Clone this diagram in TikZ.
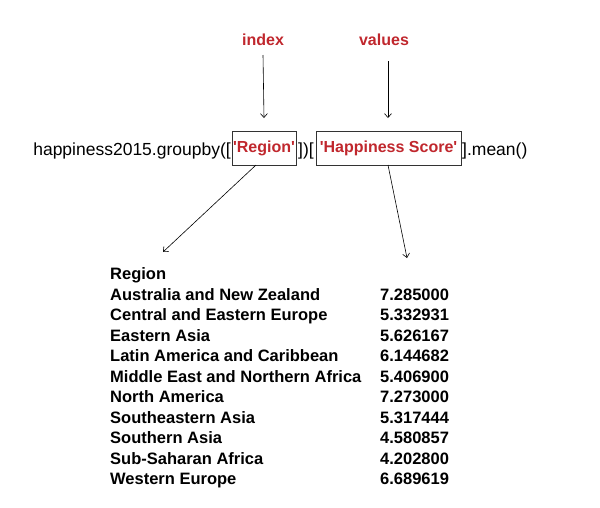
\documentclass[tikz,border=0pt]{standalone}
\usepackage{fontspec}
\setmainfont{Liberation Sans}
\usetikzlibrary{arrows.meta}
\definecolor{accent}{HTML}{C0272D}
\newcommand{\sq}{\textquotesingle}
\begin{document}
\begin{tikzpicture}[x=1pt,y=-1pt,
  lbl/.style={text=accent,font=\fontsize{16}{18}\selectfont\bfseries,inner sep=0pt},
  code/.style={font=\fontsize{17.5}{20}\selectfont,inner sep=0pt},
  keybox/.style={draw=black!80,line width=0.8pt,text=accent,font=\fontsize{16}{18}\selectfont\bfseries,inner sep=0pt,minimum height=34pt},
  row/.style={font=\fontsize{16.5}{19}\selectfont\bfseries,inner sep=0pt,anchor=base west},
  arr/.style={-{Straight Barb[length=4pt,width=7pt]},line width=0.6pt}
]
\useasboundingbox (0,0) rectangle (600,507);
\node[lbl] (index) at (263,40) {index};
\node[lbl] (values) at (384,40) {values};
\node[keybox,minimum width=64pt] (reg) at (264,148) {\sq Region\sq};
\node[keybox,minimum width=145pt] (hs) at (388.5,148) {\sq Happiness Score\sq};
\node[code,anchor=base east] (c1) at (231,155) {happiness2015.groupby([};
\node[code,anchor=base] (c2) at (306,155) {])[};
\node[code,anchor=base west] (c3) at (462,155) {].mean()};
\coordinate (ia) at (264,118);
\coordinate (va) at (388,118);
\draw[arr] (index.south |- 0,55) -- (ia);
\draw[arr] (values.south -| va) ++(0,15) -- (va);
\coordinate (rt) at (163,252);
\coordinate (vt) at (407,258);
\coordinate (rb) at (256,165);
\coordinate (hb) at (388,165);
\draw[arr] (rb) -- (rt);
\draw[arr] (hb) -- (vt);
\node[row] (h) at (110,279) {Region};
\foreach \n/\r/\v [count=\i from 0] in {
 r1/Australia and New Zealand/7.285000,
 r2/Central and Eastern Europe/5.332931,
 r3/Eastern Asia/5.626167,
 r4/Latin America and Caribbean/6.144682,
 r5/Middle East and Northern Africa/5.406900,
 r6/North America/7.273000,
 r7/Southeastern Asia/5.317444,
 r8/Southern Asia/4.580857,
 r9/Sub-Saharan Africa/4.202800,
 r10/Western Europe/6.689619}{
 \node[row] (\n) at (110,{300+\i*20.5}) {\r};
 \node[row] (\n v) at (380,{300+\i*20.5}) {\v};
}
\end{tikzpicture}
\end{document}
